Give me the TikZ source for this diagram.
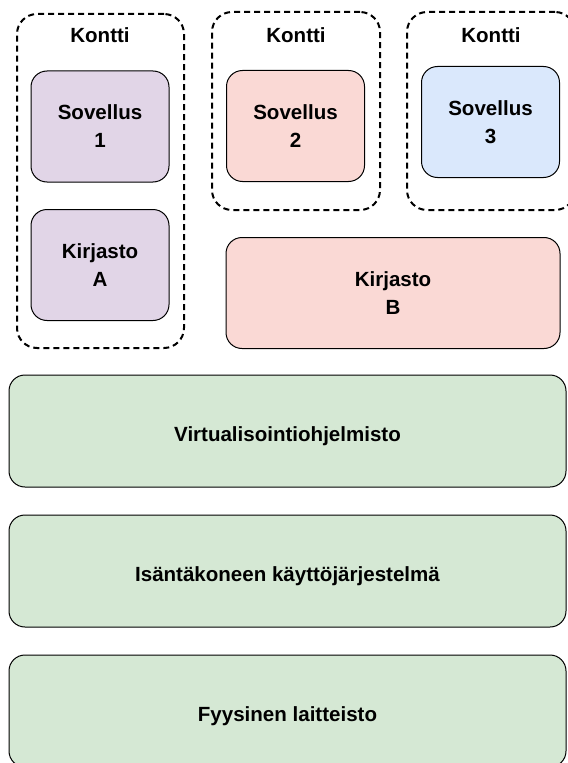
\documentclass[tikz,border=0pt]{standalone}
\usepackage{fontspec}
\setmainfont{Liberation Sans}
\usepackage{tikz}

\definecolor{violetti}{HTML}{E1D5E7}
\definecolor{punainen}{HTML}{FAD9D5}
\definecolor{sininen}{HTML}{DAE8FC}
\definecolor{vihrea}{HTML}{D5E8D4}

\tikzset{
  kontti/.style={draw, line width=1.5pt, dash pattern=on 4.5pt off 3pt, rounded corners=15pt, minimum width=126pt, inner sep=0pt},
  otsikko/.style={inner sep=0pt, font=\fontsize{15.4}{21}\selectfont\bfseries},
  boksi/.style={draw, line width=0.75pt, rounded corners=12pt, align=center, inner sep=0pt, minimum width=103.5pt, minimum height=83.25pt, font=\fontsize{15.4}{21}\selectfont\bfseries},
  kerros/.style={boksi, fill=vihrea, minimum width=417.75pt, minimum height=84pt, text height=16pt, text depth=0pt}
}

\begin{document}
\begin{tikzpicture}[x=0.75pt,y=0.75pt,yscale=-1,xscale=1]
\useasboundingbox (0,0) rectangle (567,763);

% kontit
\node [kontti, minimum width=125.25pt, minimum height=250.5pt] (kontti1) at (100.5,181) {};
\node [kontti, minimum height=148.5pt] (kontti2) at (296,111) {};
\node [kontti, minimum height=148.5pt] (kontti3) at (491,111) {};
\node [otsikko] (otsikko1) at (100,35) {Kontti};
\node [otsikko] (otsikko2) at (296,35) {Kontti};
\node [otsikko] (otsikko3) at (491,35) {Kontti};

% sovellukset ja kirjastot
\node [boksi, fill=violetti] (sovellus1) at (100,126.5) {Sovellus\\1};
\node [boksi, fill=violetti] (kirjastoA) at (100,265) {Kirjasto\\A};
\node [boksi, fill=punainen] (sovellus2) at (295.5,126) {Sovellus\\2};
\node [boksi, fill=sininen] (sovellus3) at (490.5,122) {Sovellus\\3};
\node [boksi, fill=punainen, minimum width=250.5pt] (kirjastoB) at (393,293) {Kirjasto\\B};

% kerrokset
\node [kerros] (virtualisointi) at (287.5,431) {Virtualisointiohjelmisto};
\node [kerros] (kayttojarjestelma) at (287.5,571) {Isäntäkoneen käyttöjärjestelmä};
\node [kerros] (laitteisto) at (287.5,711) {Fyysinen laitteisto};

\end{tikzpicture}
\end{document}
